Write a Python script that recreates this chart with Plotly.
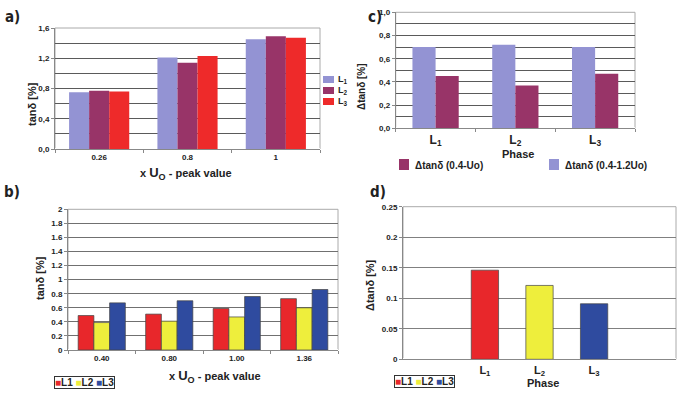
import plotly.graph_objects as go

# ---------------- data ----------------
# Panel a
a_categories = ["0.26", "0.8", "1"]
a_L1 = [0.75, 1.21, 1.45]
a_L2 = [0.77, 1.14, 1.49]
a_L3 = [0.76, 1.23, 1.47]
a_names = ["L<sub>1</sub>", "L<sub>2</sub>", "L<sub>3</sub>"]
a_ytick_labels = ["0,0", "0,4", "0,8", "1,2", "1,6"]
a_ytick_values = [0.0, 0.4, 0.8, 1.2, 1.6]

# Panel b
b_categories = ["0.40", "0.80", "1.00", "1.36"]
b_L1 = [0.49, 0.51, 0.59, 0.73]
b_L2 = [0.39, 0.41, 0.47, 0.60]
b_L3 = [0.67, 0.70, 0.76, 0.86]
b_names = ["L1", "L2", "L3"]

# Panel c
c_phases = ["L1", "L2", "L3"]
c_phase_labels = ["L<sub>1</sub>", "L<sub>2</sub>", "L<sub>3</sub>"]
c_wide = [0.70, 0.72, 0.70]    # Δtanδ (0.4-1.2Uo)
c_narrow = [0.45, 0.37, 0.47]  # Δtanδ (0.4-Uo)
c_names = ["Δtanδ (0.4-Uo)", "Δtanδ (0.4-1.2Uo)"]
c_ytick_labels = ["0,0", "0,2", "0,4", "0,6", "0,8", "1,0"]
c_ytick_values = [0.0, 0.2, 0.4, 0.6, 0.8, 1.0]

# Panel d
d_phases = ["L1", "L2", "L3"]
d_phase_labels = ["L<sub>1</sub>", "L<sub>2</sub>", "L<sub>3</sub>"]
d_values = [0.146, 0.121, 0.091]

# ---------------- styles ----------------
LAV = "#9393d3"
MAR = "#983468"
RED_A = "#ee2a2a"
RED = "#e8272b"
YEL = "#eeee3c"
BLU = "#2f4b9f"
FONT = "Liberation Sans, Arial, sans-serif"
NARROW = "Liberation Sans Narrow, DejaVu Sans Condensed, sans-serif"

W, H = 700, 396
def fx(px):
    return px / W
def fy(py):
    return 1 - py / H

fig = go.Figure()

# Panel a bars
aw = 0.227
for vals, name, col, off in [(a_L1, a_names[0], LAV, -1.5 * aw),
                             (a_L2, a_names[1], MAR, -0.5 * aw),
                             (a_L3, a_names[2], RED_A, 0.5 * aw)]:
    fig.add_trace(go.Bar(x=a_categories, y=vals, name=name, marker_color=col,
                         marker_line_width=0, width=aw, offset=off,
                         xaxis="x", yaxis="y", showlegend=False))

# Panel b bars
bw = 0.233
for vals, name, col, off in [(b_L1, b_names[0], RED, -1.5 * bw),
                             (b_L2, b_names[1], YEL, -0.5 * bw),
                             (b_L3, b_names[2], BLU, 0.5 * bw)]:
    fig.add_trace(go.Bar(x=b_categories, y=vals, name=name, marker_color=col,
                         marker_line=dict(color="#444", width=0.7), width=bw, offset=off,
                         xaxis="x2", yaxis="y2", showlegend=False))

# Panel c bars
cw = 0.29
fig.add_trace(go.Bar(x=c_phases, y=c_wide, name=c_names[1], marker_color=LAV,
                     marker_line_width=0, width=cw, offset=-cw,
                     xaxis="x3", yaxis="y3", showlegend=False))
fig.add_trace(go.Bar(x=c_phases, y=c_narrow, name=c_names[0], marker_color=MAR,
                     marker_line_width=0, width=cw, offset=0,
                     xaxis="x3", yaxis="y3", showlegend=False))

# Panel d bars
fig.add_trace(go.Bar(x=d_phases, y=d_values, marker_color=[RED, YEL, BLU],
                     marker_line=dict(color="#444", width=0.7), width=0.5, offset=-0.25,
                     xaxis="x4", yaxis="y4", showlegend=False))

tickfont = dict(family=FONT, size=8, color="#222", weight="bold")
common_x = dict(type="category", showline=True, linecolor="#888", ticks="outside",
                ticklen=3, tickcolor="#888", showgrid=False, automargin=False)
common_y = dict(showline=True, linecolor="#888", ticks="outside", ticklen=3,
                tickcolor="#888", showgrid=True, tickfont=tickfont, automargin=False)

fig.update_layout(
    width=W, height=H, margin=dict(l=0, r=0, t=0, b=0, autoexpand=False),
    paper_bgcolor="white", plot_bgcolor="white",
    barmode="overlay", showlegend=False,
    font=dict(family=FONT, color="#222"),
    # panel a
    xaxis=dict(domain=[fx(55), fx(320)], anchor="y", tickson="boundaries",
               tickfont=tickfont, **common_x),
    yaxis=dict(domain=[fy(149), fy(28)], anchor="x", range=[0, 1.6],
               tickvals=a_ytick_values, ticktext=a_ytick_labels, gridcolor="#5a5a5a",
               minor=dict(dtick=0.2, showgrid=True, gridcolor="#5a5a5a", ticks=""),
               **common_y),
    # panel b
    xaxis2=dict(domain=[fx(68), fx(338)], anchor="y2", tickson="boundaries",
                tickfont=tickfont, **common_x),
    yaxis2=dict(domain=[fy(350), fy(209.3)], anchor="x2", range=[0, 2], dtick=0.2,
                gridcolor="#707070", **common_y),
    # panel c
    xaxis3=dict(domain=[fx(395.7), fx(635)], anchor="y3", tickson="boundaries",
                tickvals=c_phases, ticktext=c_phase_labels,
                tickfont=dict(family=FONT, size=12, color="#222", weight="bold"), **common_x),
    yaxis3=dict(domain=[fy(128.3), fy(12.3)], anchor="x3", range=[0, 1.0],
                tickvals=c_ytick_values, ticktext=c_ytick_labels, gridcolor="#5a5a5a",
                minor=dict(dtick=0.1, showgrid=True, gridcolor="#5a5a5a", ticks=""),
                **common_y),
    # panel d
    xaxis4=dict(domain=[fx(403), fx(676)], anchor="y4", range=[-1.5, 3.5],
                tickvals=d_phases, ticktext=d_phase_labels,
                tickfont=dict(family=FONT, size=11, color="#222", weight="bold"),
                **{**common_x, "ticks": ""}),
    yaxis4=dict(domain=[fy(359.3), fy(206.7)], anchor="x4", range=[0, 0.25], dtick=0.05,
                gridcolor="#808080", **common_y),
)

# light frame around each plot area
for xa, ya in [("x", "y"), ("x2", "y2"), ("x3", "y3"), ("x4", "y4")]:
    fig.add_shape(type="rect", xref=f"{xa} domain", yref=f"{ya} domain",
                  x0=0, x1=1, y0=0, y1=1, line=dict(color="#aaaaaa", width=1),
                  fillcolor="rgba(0,0,0,0)", layer="below")

ann = []
def A(text, x, y, size=10, angle=0, family=FONT, bold=True, xanchor="center", **kw):
    ann.append(dict(text=text, x=fx(x), y=fy(y), xref="paper", yref="paper",
                    showarrow=False, textangle=angle, xanchor=xanchor, yanchor="middle",
                    font=dict(family=family, size=size, color="#222",
                              weight="bold" if bold else "normal"), **kw))

def swatch(x0, y0, w, h, color):
    fig.add_shape(type="rect", xref="paper", yref="paper",
                  x0=fx(x0), x1=fx(x0 + w), y0=fy(y0 + h), y1=fy(y0),
                  line=dict(width=0), fillcolor=color)

# panel labels
A("a)", 12, 17, size=15, family=NARROW)
A("b)", 12, 192, size=15, family=NARROW)
A("c)", 375, 17, size=15, family=NARROW)
A("d)", 378, 192, size=15, family=NARROW)

# axis titles
A("tanδ [%]", 32, 104, size=11, angle=-90)
A("x <span style='font-size:13px'>U<sub>O</sub></span> - peak value", 186, 173, size=11)
A("tanδ [%]", 40, 278, size=11, angle=-90)
A("x <span style='font-size:13px'>U<sub>O</sub></span> - peak value", 215, 376, size=11)
A("Δtanδ [%]", 361, 87, size=10, angle=-90)
A("Phase", 518, 154, size=11)
A("Δtanδ [%]", 370, 285, size=11, angle=-90)
A("Phase", 543, 383, size=11)

# legend a (vertical)
for i, (name, col) in enumerate(zip(a_names, [LAV, MAR, RED_A])):
    yy = 76 + i * 11
    swatch(323, yy, 11, 7, col)
    A(name, 336, yy + 3.5, size=9, xanchor="left")

# legend c (horizontal)
for name, col, x0 in [(c_names[0], MAR, 399), (c_names[1], LAV, 549)]:
    swatch(x0, 159, 10, 11, col)
    A(name, x0 + 14, 165, size=10, xanchor="left")

# compact boxed legends for b and d
def box_legend(names, cx, cy):
    cols = [RED, YEL, BLU]
    txt = " ".join(f"<span style='color:{c}'>■</span>{n}" for c, n in zip(cols, names))
    A(txt, cx, cy, size=10, bordercolor="#333", borderwidth=1, borderpad=0)

box_legend(b_names, 84, 382)
box_legend(b_names, 424, 381)

fig.update_layout(annotations=ann)
fig.write_html("out.html")
